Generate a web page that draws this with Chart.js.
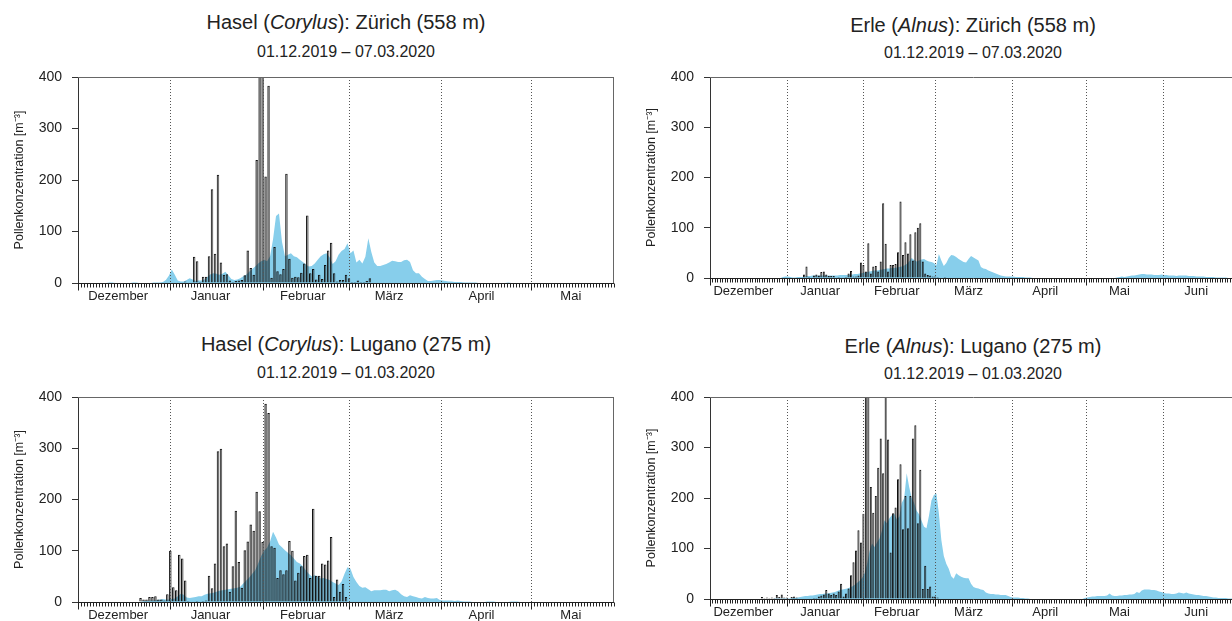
<!DOCTYPE html>
<html lang="de">
<head>
<meta charset="utf-8">
<title>Pollenflug Hasel und Erle 2019/2020</title>
<script src="https://cdn.jsdelivr.net/npm/chart.js@4.4.1/dist/chart.umd.min.js"></script>
<style>
  html, body { margin: 0; padding: 0; overflow: hidden; background: #fff; }
  body { width: 1232px; height: 621px; position: relative; font-family: "Liberation Sans", Arial, sans-serif; color: #222; }
  canvas { position: absolute; }
  .titel, .zeitraum { position: absolute; white-space: nowrap; line-height: 1; transform: translate(-50%, -50%); }
  .titel { font-size: 20px; }
  .zeitraum { font-size: 16px; }
</style>
</head>
<body>

<div class="titel" style="left:346px;top:22px">Hasel (<i>Corylus</i>): Zürich (558 m)</div>
<div class="zeitraum" style="left:346px;top:52px">01.12.2019 – 07.03.2020</div>
<div class="titel" style="left:973px;top:25px">Erle (<i>Alnus</i>): Zürich (558 m)</div>
<div class="zeitraum" style="left:973px;top:53px">01.12.2019 – 07.03.2020</div>
<div class="titel" style="left:346px;top:344px">Hasel (<i>Corylus</i>): Lugano (275 m)</div>
<div class="zeitraum" style="left:346px;top:373px">01.12.2019 – 01.03.2020</div>
<div class="titel" style="left:973px;top:346px">Erle (<i>Alnus</i>): Lugano (275 m)</div>
<div class="zeitraum" style="left:973px;top:374px">01.12.2019 – 01.03.2020</div>

<canvas id="hasel-zuerich" width="620" height="310" style="left:0;top:0"></canvas>
<canvas id="erle-zuerich" width="620" height="310" style="left:632px;top:0"></canvas>
<canvas id="hasel-lugano" width="620" height="301" style="left:0;top:320px"></canvas>
<canvas id="erle-lugano" width="620" height="301" style="left:632px;top:320px"></canvas>

<script>
// Achse: Tage ab 01.12.2019 (Index 0 = 1. Dezember)
const monate = ["Dezember", "Januar", "Februar", "März", "April", "Mai", "Juni"];
const monatsStart = [0, 31, 62, 91, 122, 152, 183];
const xMaxLinks = 180;
const xMaxRechts = 213;
const yMax = 400;
const yStep = 100;

// Hasel Zürich: Tageswerte 2019/20 (Balken) und Mittelwert (Fläche)
const haselZuerichPollen = [
  0, 0, 0, 0, 0, 0, 0, 0, 0, 0,
  0, 0, 0, 0, 0, 0, 0, 0, 0, 0,
  0, 0, 0, 0, 0, 0, 0, 0, 0, 0,
  0, 0, 0, 0, 1, 3, 1, 0, 51, 42,
  2, 12, 12, 52, 182, 57, 210, 40, 16, 17,
  5, 2, 4, 5, 6, 15, 63, 29, 16, 239,
  420, 420, 207, 383, 10, 70, 23, 17, 27, 212,
  47, 10, 12, 11, 20, 38, 131, 19, 27, 7,
  16, 8, 35, 63, 78, 19, 3, 6, 6, 16,
  9, 2, 2, 5, 2, 2, 4, 9
];
const haselZuerichMittel = [
  0, 0, 0, 0, 0, 0, 0, 0, 0, 0,
  1, 1, 0, 0, 0, 0, 0, 0, 1, 1,
  0, 0, 0, 0, 0, 1, 1, 1, 2, 6,
  14, 26, 16, 5, 3, 3, 6, 9, 7, 4,
  5, 5, 7, 12, 17, 19, 18, 16, 18, 22,
  15, 8, 6, 7, 9, 13, 16, 22, 27, 32,
  38, 42, 45, 42, 52, 85, 130, 135, 80, 52,
  55, 58, 52, 50, 45, 41, 36, 32, 33, 38,
  45, 52, 56, 58, 50, 37, 42, 55, 62, 66,
  77, 58, 63, 40, 45, 38, 51, 87, 60, 40,
  33, 33, 35, 37, 40, 43, 42, 41, 41, 44,
  45, 41, 25, 19, 19, 12, 8, 4, 4, 5,
  6, 6, 5, 4, 3, 3, 2, 2, 2, 1,
  1, 1, 1, 1, 0, 0, 0, 0, 0, 0,
  0, 0, 0, 0, 1, 0, 0, 0, 0, 0,
  0, 0, 0, 0, 0, 0, 0, 0, 0, 0,
  0, 0, 0, 0, 0, 0, 0, 0, 0, 0,
  0, 0, 0, 0, 0, 0, 0, 0, 0, 0,
  0
];

// Hasel Lugano
const haselLuganoPollen = [
  0, 0, 0, 0, 0, 0, 0, 0, 0, 0,
  0, 0, 0, 0, 0, 0, 0, 0, 0, 0,
  8, 5, 5, 10, 10, 11, 5, 5, 3, 15,
  100, 29, 23, 92, 85, 42, 2, 1, 1, 2,
  1, 2, 3, 51, 27, 75, 294, 299, 109, 114,
  20, 70, 178, 78, 28, 101, 118, 151, 139, 215,
  177, 117, 387, 369, 109, 106, 47, 62, 54, 62,
  119, 100, 42, 57, 70, 90, 92, 47, 182, 51,
  51, 75, 73, 81, 127, 10, 44, 20, 35, 10,
  0, 0
];
const haselLuganoMittel = [
  0, 0, 0, 0, 0, 0, 0, 0, 0, 0,
  0, 0, 0, 0, 0, 0, 0, 0, 0, 0,
  0, 1, 2, 2, 3, 3, 4, 5, 6, 5,
  5, 6, 7, 11, 16, 14, 9, 8, 9, 10,
  11, 11, 14, 16, 17, 18, 20, 22, 23, 24,
  25, 26, 27, 28, 30, 36, 42, 48, 55, 62,
  75, 90, 100, 106, 118, 137, 126, 112, 107, 101,
  96, 91, 85, 78, 75, 70, 62, 55, 50, 52,
  50, 46, 47, 45, 43, 39, 36, 33, 40, 55,
  68, 65, 49, 39, 31, 28, 29, 25, 21, 23,
  23, 23, 24, 24, 21, 23, 24, 21, 15, 11,
  10, 13, 11, 10, 8, 7, 10, 8, 7, 7,
  8, 4, 3, 3, 3, 3, 2, 3, 2, 1,
  1, 1, 0, 0, 0, 0, 0, 1, 1, 1,
  0, 0, 0, 0, 0, 1, 1, 1, 0, 0,
  0, 0, 0, 0, 0, 0, 0, 0, 0, 0,
  0, 0, 0, 0, 0, 0, 0, 0, 0, 0,
  0, 0, 0, 0, 0, 0, 0, 0, 0, 0,
  0
];

// Erle Zürich
const erleZuerichPollen = [
  0, 0, 0, 0, 0, 0, 0, 0, 0, 0,
  0, 0, 0, 0, 0, 0, 0, 0, 0, 0,
  0, 0, 0, 0, 0, 0, 0, 0, 0, 0,
  0, 0, 0, 0, 0, 0, 0, 7, 23, 2,
  1, 5, 7, 5, 12, 13, 7, 4, 4, 4,
  1, 2, 1, 1, 2, 9, 14, 3, 3, 5,
  31, 26, 13, 69, 9, 23, 24, 13, 33, 149,
  68, 13, 26, 26, 28, 51, 152, 46, 71, 49,
  87, 35, 91, 100, 109, 33, 9, 6, 5, 3,
  3, 2, 1, 0, 2, 1, 0, 1
];
const erleZuerichMittel = [
  0, 0, 0, 0, 0, 0, 0, 0, 0, 0,
  0, 0, 0, 0, 0, 0, 0, 0, 0, 0,
  0, 0, 0, 0, 0, 0, 0, 0, 0, 2,
  3, 3, 2, 1, 1, 2, 2, 2, 3, 4,
  4, 5, 5, 5, 5, 5, 5, 5, 5, 5,
  5, 5, 6, 6, 6, 6, 7, 7, 8, 8,
  9, 10, 11, 12, 13, 14, 15, 15, 16, 17,
  18, 19, 19, 20, 20, 21, 22, 23, 25, 28,
  33, 40, 36, 33, 35, 37, 38, 35, 33, 32,
  30, 25, 48, 35, 24, 30, 40, 46, 45, 42,
  38, 35, 32, 31, 38, 44, 41, 38, 35, 22,
  19, 18, 15, 13, 11, 9, 7, 5, 4, 3,
  3, 3, 3, 2, 2, 2, 2, 1, 1, 1,
  0, 0, 0, 0, 0, 0, 0, 0, 0, 0,
  0, 0, 0, 0, 0, 0, 0, 0, 0, 0,
  0, 0, 0, 0, 0, 0, 0, 0, 0, 0,
  0, 0, 0, 0, 1, 2, 3, 2, 3, 4,
  5, 5, 6, 7, 8, 8, 7, 7, 7, 6,
  6, 6, 7, 6, 6, 5, 5, 5, 4, 5,
  5, 5, 5, 4, 4, 4, 3, 3, 3, 3,
  2, 2, 2, 2, 1, 1, 1, 1, 1, 0,
  0, 0, 0
];

// Erle Lugano
const erleLuganoPollen = [
  0, 0, 0, 0, 0, 0, 0, 0, 0, 0,
  0, 0, 0, 0, 0, 0, 0, 0, 0, 0,
  4, 2, 3, 2, 3, 2, 8, 4, 9, 3,
  3, 1, 4, 5, 3, 0, 1, 0, 1, 1,
  0, 2, 2, 5, 7, 9, 18, 11, 8, 11,
  8, 15, 30, 5, 11, 21, 47, 73, 96, 136,
  112, 169, 430, 430, 222, 171, 204, 260, 318, 249,
  430, 316, 92, 170, 181, 237, 267, 138, 204, 140,
  204, 318, 344, 150, 256, 20, 66, 20, 25, 5,
  5, 3
];
const erleLuganoMittel = [
  0, 0, 0, 0, 0, 0, 0, 0, 0, 0,
  0, 0, 0, 0, 0, 0, 0, 0, 0, 0,
  0, 0, 0, 0, 0, 0, 1, 1, 1, 1,
  1, 1, 1, 2, 2, 3, 4, 5, 6, 6,
  7, 7, 8, 9, 10, 10, 11, 11, 12, 13,
  14, 16, 18, 19, 20, 21, 23, 25, 28, 32,
  36, 42, 51, 70, 95, 110, 103, 112, 120, 135,
  156, 150, 160, 166, 169, 158, 163, 190, 200, 249,
  222, 200, 190, 175, 168, 155, 143, 140, 165, 195,
  206, 209, 170, 117, 85, 70, 60, 45, 40, 51,
  47, 44, 42, 41, 41, 30, 24, 22, 21, 19,
  18, 13, 11, 10, 10, 9, 9, 8, 8, 8,
  6, 4, 3, 3, 3, 2, 2, 1, 1, 0,
  0, 0, 0, 0, 0, 0, 0, 0, 0, 0,
  0, 0, 0, 0, 0, 0, 0, 0, 0, 0,
  0, 2, 3, 4, 5, 5, 6, 6, 6, 6,
  7, 11, 7, 6, 6, 7, 7, 8, 8, 9,
  9, 10, 14, 12, 17, 19, 19, 19, 18, 18,
  17, 15, 14, 12, 11, 11, 10, 10, 11, 13,
  12, 11, 13, 11, 10, 9, 8, 8, 7, 6,
  6, 5, 4, 3, 3, 2, 2, 2, 2, 1,
  1, 1, 1
];

Chart.defaults.font.family = '"Liberation Sans", Arial, sans-serif';
Chart.defaults.color = "#222";

// Tagesstriche, Monatslinien, Rahmen und Monatsnamen
function monatsAchse(xMax) {
  return {
    id: "monatsAchse",
    afterDatasetsDraw(chart) {
      const {ctx, chartArea: a} = chart;
      const x = chart.scales.x;
      ctx.save();
      ctx.lineWidth = 1;

      // gepunktete Linien am Monatsanfang
      ctx.strokeStyle = "#555";
      ctx.setLineDash([1, 2]);
      monatsStart.forEach(function(t){
        if (t <= 0 || t >= xMax) return;
        const px = Math.round(x.getPixelForValue(t)) + 0.5;
        ctx.beginPath();
        ctx.moveTo(px, a.top);
        ctx.lineTo(px, a.bottom);
        ctx.stroke();
      });
      ctx.setLineDash([]);

      // Rahmen oben und rechts
      ctx.strokeStyle = "#666";
      ctx.beginPath();
      ctx.moveTo(a.left, Math.round(a.top) + 0.5);
      ctx.lineTo(a.right, Math.round(a.top) + 0.5);
      ctx.moveTo(Math.round(a.right) - 0.5, a.top);
      ctx.lineTo(Math.round(a.right) - 0.5, a.bottom);
      ctx.stroke();

      // Nulllinie und Striche pro Tag
      const yb = Math.round(a.bottom) + 0.5;
      ctx.strokeStyle = "#222";
      ctx.beginPath();
      ctx.moveTo(a.left, yb);
      ctx.lineTo(a.right, yb);
      for (let t = 0; t <= xMax; t++) {
        const lang = monatsStart.includes(t);
        const px = Math.round(x.getPixelForValue(t)) + 0.5;
        ctx.moveTo(px, yb);
        ctx.lineTo(px, yb + (lang ? 7 : 4));
      }
      ctx.stroke();

      // Monatsnamen etwa am 15. des Monats
      ctx.fillStyle = "#222";
      ctx.font = '13px "Liberation Sans", Arial, sans-serif';
      ctx.textAlign = "center";
      ctx.textBaseline = "middle";
      monate.forEach(function(m, i){
        const t = monatsStart[i] + 13.5;
        if (t > xMax) return;
        ctx.fillText(m, x.getPixelForValue(t), a.bottom + 13);
      });
      ctx.restore();
    }
  };
}

function zeichneDiagramm(id, pollen, mittel, xMax, padding, balkenBreite) {
  const canvas = document.getElementById(id).getContext("2d");
  return new Chart(canvas, {
    type: "bar",
    data: {
      datasets: [
        {
          type: "bar",
          label: "Pollen 2019/20",
          data: pollen.map(function(v, i){ return {x: i + 1, y: v}; }),
          backgroundColor: "rgba(0, 0, 0, 0.45)",
          borderColor: "#111",
          borderWidth: {left: 1, right: 0.6, top: 1, bottom: 0},
          barThickness: balkenBreite,
          inflateAmount: 0,
          order: 1
        },
        {
          type: "line",
          label: "Mittel",
          data: mittel.map(function(v, i){ return {x: i + 0.5, y: v}; }),
          fill: "origin",
          backgroundColor: "#87CEEB",
          borderWidth: 0,
          pointRadius: 0,
          tension: 0,
          order: 2
        }
      ]
    },
    options: {
      responsive: false,
      animation: false,
      events: [],
      layout: { padding: padding },
      plugins: { legend: { display: false }, tooltip: { enabled: false } },
      scales: {
        x: {
          type: "linear",
          min: 0,
          max: xMax,
          offset: false,
          display: false
        },
        y: {
          min: 0,
          max: yMax,
          ticks: { stepSize: yStep, padding: 10, font: { size: 14 }, color: "#222" },
          grid: { drawOnChartArea: false, tickLength: 6, color: "#333" },
          border: { color: "#333" },
          title: {
            display: true,
            text: "Pollenkonzentration [m⁻³]",
            font: { size: 12.5 },
            color: "#222",
            padding: { top: 12, bottom: 0 }
          },
          afterFit: function(scale){ scale.width = 78; }
        }
      }
    },
    plugins: [monatsAchse(xMax)]
  });
}

zeichneDiagramm("hasel-zuerich", haselZuerichPollen, haselZuerichMittel, xMaxLinks,
                {left: 0, top: 77, right: 6, bottom: 27}, 2.5);
zeichneDiagramm("hasel-lugano", haselLuganoPollen, haselLuganoMittel, xMaxLinks,
                {left: 0, top: 77, right: 6, bottom: 19}, 2.5);
zeichneDiagramm("erle-zuerich", erleZuerichPollen, erleZuerichMittel, xMaxRechts,
                {left: 0, top: 77, right: 15, bottom: 32}, 2.1);
zeichneDiagramm("erle-lugano", erleLuganoPollen, erleLuganoMittel, xMaxRechts,
                {left: 0, top: 77, right: 15, bottom: 22}, 2.1);
</script>
</body>
</html>
